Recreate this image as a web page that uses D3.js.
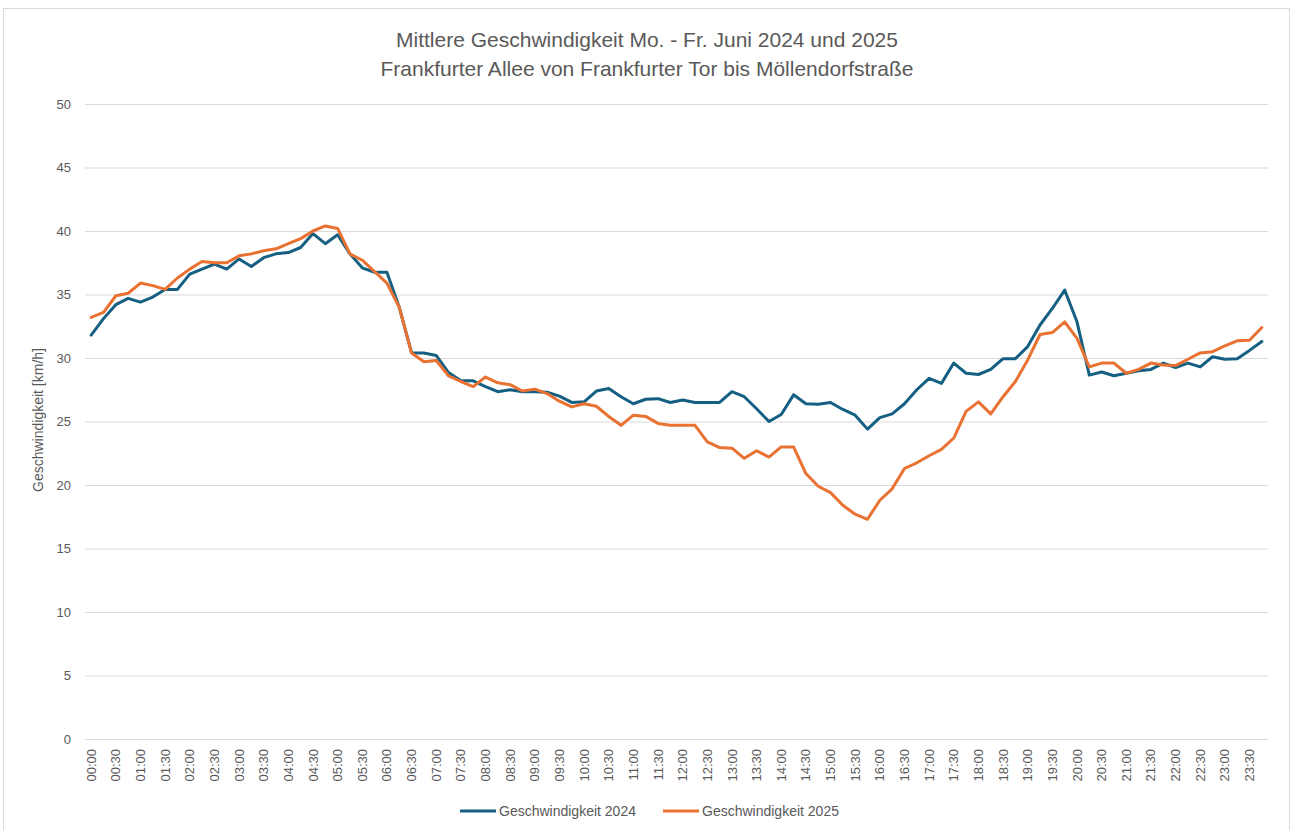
<!DOCTYPE html>
<html>
<head>
<meta charset="utf-8">
<script src="https://cdn.jsdelivr.net/npm/d3@7"></script>
<style>
  body { margin: 0; background: #fff; }
  text { font-family: "Liberation Sans Narrow", "Arial Narrow", "Liberation Sans", sans-serif; fill: #595959; }
</style>
</head>
<body>
<div id="chart"></div>
<script>
// 15-minute slots, labels shown every 30 minutes
const times = [];
for (let h = 0; h < 24; h++) {
  for (let m = 0; m < 60; m += 15) {
    times.push(String(h).padStart(2, "0") + ":" + String(m).padStart(2, "0"));
  }
}

const speed2024 = [31.8,33.1,34.2,34.7,34.4,34.8,35.4,35.4,36.6,37.0,37.4,37.0,37.8,37.2,37.9,38.2,38.3,38.7,39.8,39.0,
  39.7,38.2,37.1,36.75,36.75,34.0,30.4,30.4,30.2,28.85,28.2,28.2,27.75,27.35,27.5,27.35,27.35,27.3,27.0,26.5,
  26.55,27.4,27.6,26.95,26.4,26.75,26.8,26.5,26.7,26.5,26.5,26.5,27.35,26.95,26.0,25.0,25.55,27.1,26.4,26.35,
  26.5,25.95,25.5,24.4,25.3,25.6,26.4,27.5,28.4,28.0,29.6,28.8,28.7,29.1,29.95,29.95,30.9,32.6,33.9,35.35,
  32.85,28.65,28.9,28.6,28.8,29.0,29.1,29.6,29.25,29.6,29.3,30.1,29.9,29.95,30.6,31.3];

const speed2025 = [33.2,33.6,34.9,35.1,35.9,35.7,35.4,36.3,37.0,37.6,37.5,37.5,38.05,38.2,38.45,38.6,39.0,39.4,40.0,40.4,
  40.2,38.2,37.7,36.8,35.9,34.0,30.4,29.7,29.8,28.6,28.15,27.75,28.5,28.05,27.9,27.4,27.55,27.2,26.6,26.15,
  26.4,26.2,25.4,24.7,25.5,25.4,24.85,24.7,24.7,24.7,23.4,22.95,22.9,22.1,22.7,22.2,23.0,23.0,20.9,19.9,
  19.4,18.4,17.7,17.3,18.8,19.7,21.3,21.75,22.3,22.8,23.7,25.8,26.55,25.6,26.95,28.15,29.85,31.85,32.0,32.85,
  31.55,29.3,29.6,29.6,28.8,29.1,29.6,29.45,29.4,29.9,30.4,30.5,30.95,31.35,31.4,32.4];

const yTicks = [0,5,10,15,20,25,30,35,40,45,50];

const seriesNames = ["Geschwindigkeit 2024", "Geschwindigkeit 2025"];
const seriesColors = ["#156082", "#E97132"];

const width = 1293;
const height = 830;
const margin = {left: 85, right: 25, top: 104, bottom: 91};

const svg = d3.select("#chart")
  .append("svg")
  .attr("width", width)
  .attr("height", height);

// chart frame
svg.append("rect")
  .attr("x", 3.5).attr("y", 8.5)
  .attr("width", 1286).attr("height", 840)
  .attr("fill", "none")
  .attr("stroke", "#d9d9d9");

const x = d3.scaleBand()
  .domain(times)
  .range([margin.left, width - margin.right]);

const y = d3.scaleLinear()
  .domain([0, 50])
  .range([height - margin.bottom, margin.top]);

// title
const title = svg.append("text")
  .attr("x", 647)
  .attr("text-anchor", "middle")
  .style("font-size", "21px");
title.append("tspan").attr("x", 647).attr("y", 47).text("Mittlere Geschwindigkeit Mo. - Fr. Juni 2024 und 2025");
title.append("tspan").attr("x", 647).attr("y", 76).text("Frankfurter Allee von Frankfurter Tor bis Möllendorfstraße");

// gridlines + y labels
const yAxis = svg.append("g")
  .attr("transform", `translate(${margin.left},0)`)
  .call(d3.axisLeft(y).tickValues(yTicks).tickSize(-(width - margin.left - margin.right)).tickPadding(14));
yAxis.select(".domain").remove();
yAxis.selectAll(".tick line").attr("stroke", "#d9d9d9").attr("stroke-width", 1);
yAxis.selectAll(".tick text").style("font-size", "13px").attr("fill", "#595959");

// x labels
const xAxis = svg.append("g")
  .attr("transform", `translate(0,${height - margin.bottom})`)
  .call(d3.axisBottom(x).tickValues(times.filter((t, i) => i % 2 === 0)).tickSize(0));
xAxis.select(".domain").attr("stroke", "#d9d9d9");
xAxis.selectAll(".tick text")
  .style("font-size", "13px")
  .attr("fill", "#595959")
  .attr("text-anchor", "end")
  .attr("transform", "rotate(-90)")
  .attr("x", -10)
  .attr("y", 0)
  .attr("dy", "0.35em");

// y axis title
svg.append("text")
  .attr("transform", "translate(43,420) rotate(-90)")
  .attr("text-anchor", "middle")
  .style("font-size", "14px")
  .text("Geschwindigkeit [km/h]");

// lines
const line = d3.line()
  .x((d, i) => x(times[i]) + x.bandwidth() / 2)
  .y(d => y(d));

[speed2024, speed2025].forEach((data, k) => {
  svg.append("path")
    .datum(data)
    .attr("d", line)
    .attr("fill", "none")
    .attr("stroke", seriesColors[k])
    .attr("stroke-width", 3)
    .attr("stroke-linejoin", "round")
    .attr("stroke-linecap", "round");
});

// legend
const legendX = [460, 663];
seriesNames.forEach((name, k) => {
  const lg = svg.append("g").attr("transform", `translate(${legendX[k]},811)`);
  lg.append("line")
    .attr("x1", 0).attr("x2", 36)
    .attr("stroke", seriesColors[k])
    .attr("stroke-width", 3);
  lg.append("text")
    .attr("x", 39)
    .attr("dy", "0.35em")
    .style("font-size", "14px")
    .text(name);
});
</script>
</body>
</html>
